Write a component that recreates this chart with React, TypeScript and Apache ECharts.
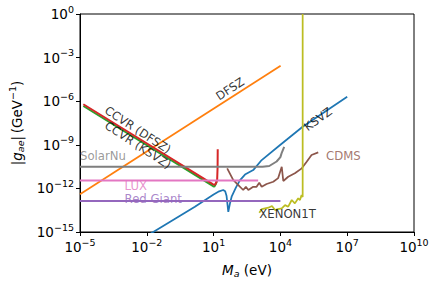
import React, { useEffect, useRef } from "react";
import * as echarts from "echarts";

// Tick exponents (labels are 10^n)
const xTickExp = [-5, -2, 1, 4, 7, 10];
const yTickExp = [-15, -12, -9, -6, -3, 0];

// All curves stored as log10(M_a / eV) and log10(|g_ae| / GeV^-1)
const dfszLogM = [-5, 4.01];
const dfszLogG = [-12.41, -3.56];

const ksvzLogM = [-2.0, -1.71, 0.16, 1.0, 1.25, 1.43, 1.52, 1.58, 1.66, 1.74, 1.81, 2.0, 2.18, 2.41, 2.78, 3.16, 4.0, 5.0, 6.0, 7.0];
const ksvzLogG = [-15.27, -15.0, -13.26, -12.42, -12.2, -12.11, -12.2, -12.5, -13.61, -13.0, -12.57, -11.95, -11.45, -11.05, -10.74, -10.05, -9.0, -7.76, -6.72, -5.69];

const ccvrKsvzLogM = [-4.85, 0.98, 1.03, 1.1, 1.14];
const ccvrKsvzLogG = [-6.33, -11.85, -11.88, -11.7, -11.5];

const ccvrDfszLogM = [-4.85, 0.98, 1.05, 1.12, 1.16, 1.18, 1.185];
const ccvrDfszLogG = [-6.21, -11.72, -11.76, -11.6, -11.4, -10.5, -9.31];

const solarLogM = [-5, 3.2, 3.5, 3.83, 4.0, 4.06, 4.17];
const solarLogG = [-10.51, -10.51, -10.46, -10.15, -9.85, -9.55, -9.15];

const luxLogM = [-5, 3.0];
const luxLogG = [-11.45, -11.45];

const redGiantLogM = [-5, 4.0];
const redGiantLogG = [-12.86, -12.86];

const cdmsLogM = [1.61, 1.88, 2.11, 2.33, 2.45, 2.56, 2.78, 2.93, 3.05, 3.16, 3.38, 3.68, 3.9, 4.06, 4.13, 4.35, 4.65, 4.96, 5.18, 5.4, 5.7];
const cdmsLogG = [-10.62, -11.42, -11.77, -12.11, -11.89, -12.11, -11.89, -11.89, -11.61, -11.89, -11.7, -11.54, -11.29, -10.51, -11.49, -11.2, -10.96, -10.62, -10.17, -9.7, -9.52];

const xenonLogM = [3.05, 3.17, 3.46, 3.62, 3.76, 3.89, 4.06, 4.21, 4.35, 4.51, 4.65, 4.8, 4.88, 4.95, 5.0, 5.0];
const xenonLogG = [-13.67, -13.42, -13.33, -13.21, -13.49, -13.42, -13.37, -13.15, -13.26, -12.8, -13.03, -12.68, -12.8, -12.46, -12.6, 0];

// Annotations
const labelTexts = ["DFSZ", "KSVZ", "CCVR (DFSZ)", "CCVR (KSVZ)", "SolarNu", "LUX", "Red Giant", "CDMS", "XENON1T"];
const labelLogM = [1.74, 5.69, -2.4, -2.4, -5, -3.0, -3.0, 6.05, 3.05];
const labelLogG = [-5.16, -7.23, -7.98, -9.02, -9.74, -11.84, -12.71, -9.77, -13.73];
const labelAngle = [33, 36, -33, -33, 0, 0, 0, 0, 0];
const labelColor = ["#000", "#000", "#000", "#000", "#7f7f7f", "#e377c2", "#9467bd", "#8c564b", "#000"];

const FONT = "DejaVu Sans";

const pairs = (lx: number[], ly: number[]) =>
  lx.map((v, i) => [Math.pow(10, v), Math.pow(10, ly[i])]);

const expLabel = (v: number) => {
  const e = Math.round(Math.log10(v));
  return `{b|10}{s|${e < 0 ? "\u2212" + -e : e}}`;
};

const tickRich = {
  b: { fontSize: 13.5, fontFamily: FONT, color: "#000", lineHeight: 20 },
  s: { fontSize: 9.5, fontFamily: FONT, color: "#000", verticalAlign: "top" },
};

const nameRich = {
  t: { fontSize: 13.5, fontFamily: FONT, color: "#000", lineHeight: 20 },
  i: { fontSize: 13.5, fontFamily: FONT, color: "#000", lineHeight: 20, fontStyle: "italic" },
  sub: { fontSize: 9.5, fontFamily: FONT, color: "#000", fontStyle: "italic", padding: [7, 0, 0, 0] },
  sup: { fontSize: 9.5, fontFamily: FONT, color: "#000", verticalAlign: "top" },
};

export default function App() {
  const ref = useRef<HTMLDivElement>(null);
  useEffect(() => {
    if (!ref.current) return;
    const chart = echarts.init(ref.current, null, { renderer: "svg" });
    const line = (name: string, lx: number[], ly: number[], color: string, width = 1.75, z = 2) => ({
      type: "line",
      name,
      data: pairs(lx, ly),
      showSymbol: false,
      symbol: "none",
      silent: true,
      clip: true,
      z,
      lineStyle: { color, width },
    });
    chart.setOption({
      animation: false,
      grid: {
        left: 80,
        top: 14,
        right: 23,
        bottom: 54,
        containLabel: false,
        outerBoundsMode: "none",
        show: true,
        borderColor: "#000",
        borderWidth: 1,
        backgroundColor: "transparent",
      },
      xAxis: {
        type: "log",
        logBase: 10,
        min: Math.pow(10, xTickExp[0]),
        max: Math.pow(10, xTickExp[xTickExp.length - 1]),
        name: "{i|M}{sub|a}{t| (eV)}",
        nameLocation: "middle",
        nameGap: 28,
        nameTextStyle: { rich: nameRich },
        axisLine: { show: true, lineStyle: { color: "#000", width: 1 } },
        axisTick: { show: true, length: 4, lineStyle: { color: "#000" }, customValues: xTickExp.map((e) => Math.pow(10, e)) },
        minorTick: { show: false },
        splitLine: { show: false },
        axisLabel: {
          margin: 5,
          customValues: xTickExp.map((e) => Math.pow(10, e)),
          formatter: expLabel,
          rich: tickRich,
        },
      },
      yAxis: {
        type: "log",
        logBase: 10,
        min: Math.pow(10, yTickExp[0]),
        max: Math.pow(10, yTickExp[yTickExp.length - 1]),
        name: "{t||}{i|g}{sub|ae}{t||\u2009(GeV}{sup|\u22121}{t|)}",
        nameLocation: "middle",
        nameRotate: 90,
        nameGap: 52,
        nameTextStyle: { rich: nameRich },
        axisLine: { show: true, lineStyle: { color: "#000", width: 1 } },
        axisTick: { show: true, length: 4, lineStyle: { color: "#000" }, customValues: yTickExp.map((e) => Math.pow(10, e)) },
        minorTick: { show: false },
        splitLine: { show: false },
        axisLabel: {
          margin: 6,
          customValues: yTickExp.map((e) => Math.pow(10, e)),
          formatter: expLabel,
          rich: tickRich,
        },
      },
      series: [
        line("KSVZ", ksvzLogM, ksvzLogG, "#1f77b4"),
        line("DFSZ", dfszLogM, dfszLogG, "#ff7f0e"),
        line("CCVR (KSVZ)", ccvrKsvzLogM, ccvrKsvzLogG, "#2ca02c", 2),
        line("CCVR (DFSZ)", ccvrDfszLogM, ccvrDfszLogG, "#d62728", 2),
        line("Red Giant", redGiantLogM, redGiantLogG, "#9467bd", 2),
        line("CDMS", cdmsLogM, cdmsLogG, "#8c564b"),
        line("SolarNu", solarLogM, solarLogG, "#7f7f7f", 2),
        line("LUX", luxLogM, luxLogG, "#e377c2", 2),
        line("XENON1T", xenonLogM, xenonLogG, "#bcbd22"),
        {
          type: "scatter",
          silent: true,
          symbolSize: 0,
          z: 10,
          data: labelTexts.map((t, i) => ({
            value: [Math.pow(10, labelLogM[i]), Math.pow(10, labelLogG[i])],
            label: {
              show: true,
              formatter: t,
              position: labelAngle[i] === 0 ? "right" : "inside",
              distance: 0,
              rotate: labelAngle[i],
              color: labelColor[i],
              fontFamily: FONT,
              fontSize: 11.7,
            },
          })),
        },
      ],
    });
    return () => chart.dispose();
  }, []);
  return (
    <div
      ref={ref}
      style={{ position: "fixed", left: 0, top: 0, width: 437, height: 286, background: "#fff" }}
    />
  );
}
